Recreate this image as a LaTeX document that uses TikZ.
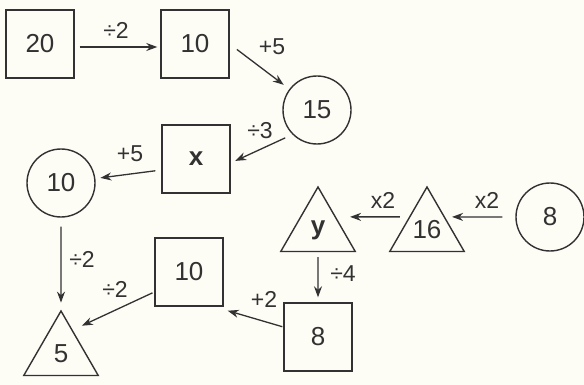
\documentclass[tikz,border=0pt]{standalone}
\usepackage{fontspec}
\setmainfont{Liberation Sans}
\usetikzlibrary{
  arrows.meta,      % Stealth 箭头
  shapes.geometric  % 三角形节点
}
\definecolor{ink}{RGB}{50,50,50}
\definecolor{paper}{RGB}{253,252,245}

\begin{document}
\begin{tikzpicture}[x=1pt, y=-1pt, >={Stealth[length=11pt,width=8pt]},
    box/.style={draw=ink, line width=1.4pt, minimum size=68pt, inner sep=0pt,
      text=ink, font=\fontsize{26}{30}\selectfont},
    ring/.style={box, circle},
    tri/.style={box, regular polygon, regular polygon sides=3, minimum size=86pt},
    op/.style={text=ink, font=\fontsize{23}{27}\selectfont},
    link/.style={->, draw=ink, line width=1.3pt}]
    % 背景与边界
    \path[use as bounding box, fill=paper] (0,0) rectangle (584,385);

    % 数字框
    \node[box]  (n20)  at (40,44)   {20};
    \node[box]  (n10a) at (195,44)  {10};
    \node[ring] (n15)  at (317,110) {15};
    \node[box]  (nx)   at (196,159) {\textbf{x}};
    \node[ring] (n10b) at (61,183)  {10};
    \node[tri]  (n5)   at (61,354)  {5};
    \node[box]  (n10c) at (189,272) {10};
    \node[box]  (n8a)  at (318,337) {8};
    \node[tri]  (ny)   at (318,230) {\textbf{y}};
    \node[tri]  (n16)  at (427,230) {16};
    \node[ring] (n8b)  at (550,217) {8};

    % 箭头
    \draw[link, shorten <=5pt, shorten >=3pt] ([yshift=-3pt]n20.east) -- ([yshift=-3pt]n10a.west);
    \draw[link, shorten <=9pt, shorten >=7pt] (n10a.east) -- (n15);
    \draw[link, shorten <=8pt, shorten >=5pt] (n15.225) -- ([yshift=-4pt]nx.east);
    \draw[link, shorten <=6pt, shorten >=5pt] ([yshift=-11pt]nx.west) -- (n10b);
    \draw[link, shorten <=9pt, shorten >=7pt] (n10b) -- (n5);
    \draw[link, shorten <=2pt, shorten >=10pt] ([yshift=-20pt]n10c.west) -- (n5.64);
    \draw[link, shorten <=1pt] ([yshift=10pt]n8a.west) -- ([shift={(4pt,-4pt)}]n10c.south east);
    \draw[link, shorten <=5pt, shorten >=5pt] (ny) -- (n8a);
    \draw[link, shorten <=9pt, shorten >=14pt] (n16.144) -- (ny.36);
    \draw[link, shorten <=13pt, shorten >=7pt] (n8b.west) -- (n16.36);

    % 运算标注
    \node[op] (div2a)   at (116,30)  {÷2};
    \node[op] (plus5a)  at (272,47)  {+5};
    \node[op] (div3)    at (260,131) {÷3};
    \node[op] (plus5b)  at (130,154) {+5};
    \node[op] (div2b)   at (82,259)  {÷2};
    \node[op] (div2c)   at (115,289) {÷2};
    \node[op] (plus2)   at (264,299) {+2};
    \node[op] (div4)    at (343,274) {÷4};
    \node[op] (times2a) at (383,200) {x2};
    \node[op] (times2b) at (487,200) {x2};
  \end{tikzpicture}
\end{document}
